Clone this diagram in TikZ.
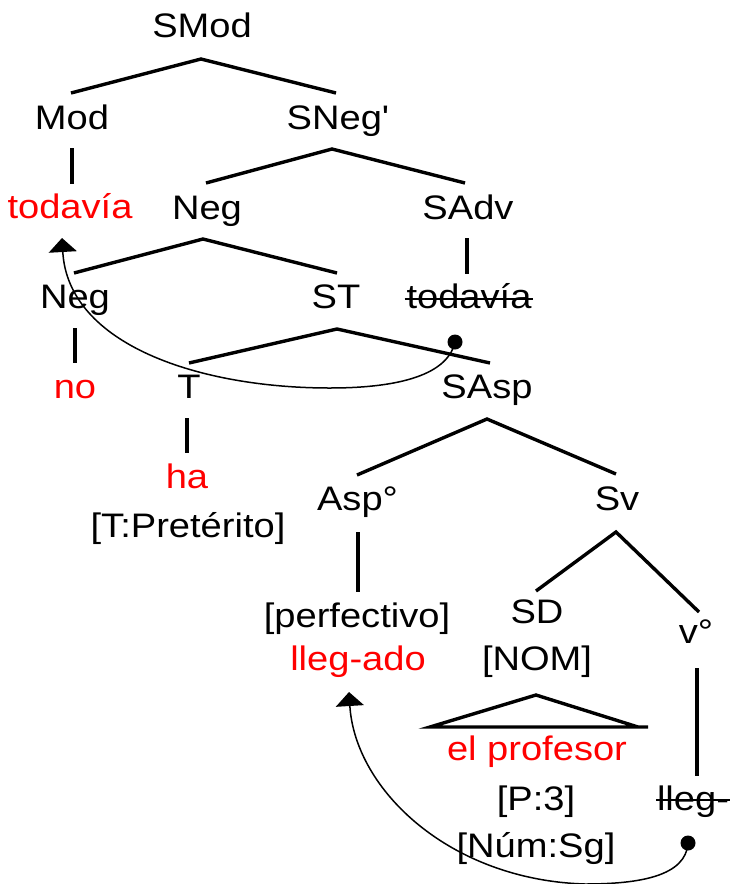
\documentclass[tikz,border=0pt]{standalone}
\usepackage{fontspec}
\setmainfont{Liberation Sans}[FakeStretch=1.12,Ligatures=TeXOff]
\usetikzlibrary{calc,arrows.meta}
\begin{document}
\begin{tikzpicture}[x=1pt,y=-1pt,
  lbl/.style={anchor=base, inner sep=0pt, outer sep=0pt, font=\fontsize{34}{40}\selectfont},
  rlbl/.style={lbl, text=red},
  slbl/.style={lbl, anchor=base west},
  br/.style={line width=3.4pt},
  mv/.style={line width=1.5pt},
  strk/.style={line width=1.8pt},
  dotnode/.style={circle, fill=black, inner sep=0pt, minimum size=15pt},
  tipped/.style={-{Triangle[width=28pt,length=14pt]}}]
\useasboundingbox (0,0) rectangle (730,884);
% labels
\node[lbl] (smod) at (202,37) {SMod};
\node[lbl] (mod) at (72,129) {Mod};
\node[lbl] (sneg) at (338,129) {SNeg'};
\node[rlbl] (todr) at (70,218) {todavía};
\node[lbl] (neg) at (207,219) {Neg};
\node[lbl] (sadv) at (468,219) {SAdv};
\node[lbl] (negb) at (75,308) {Neg};
\node[lbl] (st) at (336,308) {ST};
\node[lbl] (tods) at (469,308) {todavía};
\node[rlbl] (no) at (75,398) {no};
\node[lbl] (t) at (189,398) {T};
\node[lbl] (sasp) at (487,398) {SAsp};
\node[rlbl] (ha) at (187,488) {ha};
\node[lbl] (pret) at (188,537) {[T:Pretérito]};
\node[lbl] (asp) at (357.5,510) {Asp°};
\node[lbl] (sv) at (617,510) {Sv};
\node[lbl] (perf) at (357,627) {[perfectivo]};
\node[rlbl] (llegado) at (358,670) {lleg-ado};
\node[lbl] (sd) at (537,623) {SD};
\node[lbl] (nom) at (537,670) {[NOM]};
\node[lbl] (vo) at (696,643) {v°};
\node[rlbl] (prof) at (537,760) {el profesor};
\node[lbl] (p3) at (536,810) {[P:3]};
\node[lbl] (num) at (536,857) {[Núm:Sg]};
\node[slbl] (lleg) at (657,810) {lleg-};
% strike-throughs
\draw[strk] ($(tods.base west)+(-2,-9)$) -- ($(tods.base east)+(2,-9)$);
\draw[strk] ($(lleg.base west)+(-1,-10)$) -- ($(lleg.base east)+(6,-10)$);
% branches
\draw[br] ($(mod.base)+(-1,-36)$) -- ($(smod.base)+(-1,22)$) -- ($(sneg.base)+(-2,-36)$);
\draw[br] ($(mod.base)+(0,19)$) -- ($(todr.base)+(2,-34)$);
\draw[br] ($(neg.base)+(-1,-36)$) -- ($(sneg.base)+(-6,20)$) -- ($(sadv.base)+(-3,-36)$);
\draw[br] ($(sadv.base)+(-1,19)$) -- ($(tods.base)+(-2,-34)$);
\draw[br] ($(negb.base)+(-1,-35)$) -- ($(neg.base)+(-4,20)$) -- ($(st.base)+(1,-35)$);
\draw[br] ($(negb.base)+(0,20)$) -- ($(no.base)+(0,-35)$);
\draw[br] ($(t.base)+(0,-35)$) -- ($(st.base)+(1,21)$) -- ($(sasp.base)+(3,-35)$);
\draw[br] ($(t.base)+(-2,20)$) -- ($(ha.base)+(0,-35)$);
\draw[br] ($(asp.base)+(-0.5,-35)$) -- ($(sasp.base)+(0,21)$) -- ($(sv.base)+(-1,-36)$);
\draw[br] ($(asp.base)+(0.5,22)$) -- ($(perf.base)+(1,-35)$);
\draw[br] ($(sd.base)+(-1,-32)$) -- ($(sv.base)+(-1,22)$) -- ($(vo.base)+(3,-31)$);
\draw[br] ($(vo.base)+(1,25)$) -- ($(lleg.base west)+(40,-34)$);
% triangle
\draw[br] ($(prof.base)+(111,-33)$) -- ($(prof.base)+(-107,-33)$) -- ($(prof.base)+(-1,-65)$) -- ($(prof.base)+(101,-33)$);
% movement arrows
\node[dotnode] (d1) at ($(tods.base)+(-14,34)$) {};
\node[dotnode] (d2) at ($(lleg.base west)+(31,33)$) {};
\draw[mv,tipped] (d1.center) .. controls (447,378) and (390,388) .. (330,388)
  .. controls (200,388) and (68,345) .. ($(todr.base)+(-8,20)$);
\draw[mv,tipped] (d2.center) .. controls (686,876) and (640,884) .. (585,884)
  .. controls (450,880) and (355,790) .. ($(llegado.base)+(-9,22)$);
\end{tikzpicture}
\end{document}
